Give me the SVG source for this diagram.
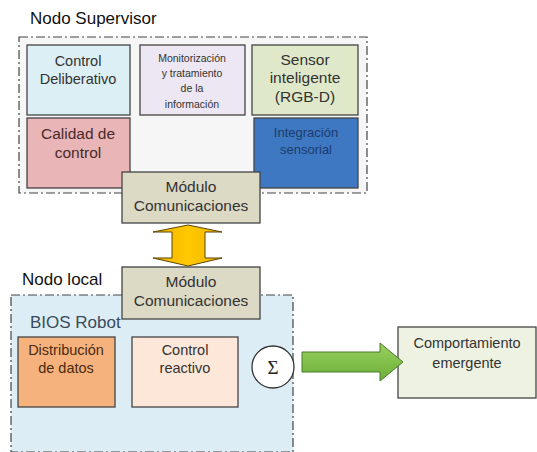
<svg xmlns="http://www.w3.org/2000/svg" width="537" height="452" viewBox="0 0 537 452">
<style>
.t{font-family:"Liberation Sans",Arial,sans-serif;fill:#333;text-anchor:middle}
.lbl{font-family:"Liberation Sans",Arial,sans-serif;fill:#111;font-size:17px}
.box{stroke:#444;stroke-width:1.3}
.dash{stroke:#444;stroke-width:1.2;stroke-dasharray:9 3 2 3}
</style>
<defs>
<linearGradient id="gy" x1="0" y1="0" x2="1" y2="0">
<stop offset="0" stop-color="#f2b400"/><stop offset="0.5" stop-color="#ffc800"/><stop offset="1" stop-color="#f2b400"/>
</linearGradient>
<linearGradient id="gg" x1="0" y1="0" x2="0" y2="1">
<stop offset="0" stop-color="#9ad060"/><stop offset="1" stop-color="#6aae36"/>
</linearGradient>
</defs>
<rect width="537" height="452" fill="#fff"/>
<text class="lbl" x="30" y="24">Nodo Supervisor</text>
<g id="supervisor">
<rect class="dash" x="19" y="37" width="348" height="156" fill="#f6f6f6"/>
</g>
<g id="control-deliberativo">
<rect class="box" x="27" y="45" width="103" height="70" fill="#dceff5"/>
<text class="t" font-size="14.5" x="78" y="66">Control</text>
<text class="t" font-size="14.5" x="78" y="84">Deliberativo</text>
</g>
<g id="monitorizacion">
<rect class="box" x="140" y="45" width="105" height="70" fill="#ece7f2"/>
<text class="t" font-size="10.5" x="192" y="62">Monitorización</text>
<text class="t" font-size="10.5" x="192" y="77">y tratamiento</text>
<text class="t" font-size="10.5" x="192" y="92">de la</text>
<text class="t" font-size="10.5" x="192" y="108">información</text>
</g>
<g id="sensor">
<rect class="box" x="252" y="45" width="106" height="70" fill="#dfe8c9"/>
<text class="t" font-size="15.5" x="305" y="65">Sensor</text>
<text class="t" font-size="15.5" x="305" y="83">inteligente</text>
<text class="t" font-size="15.5" x="305" y="102">(RGB-D)</text>
</g>
<g id="calidad">
<rect class="box" x="27" y="118" width="103" height="70" fill="#e9b5b7"/>
<text class="t" font-size="15.5" x="78" y="139" style="fill:#4a2a2a">Calidad de</text>
<text class="t" font-size="15.5" x="78" y="158" style="fill:#4a2a2a">control</text>
</g>
<g id="integracion">
<rect class="box" x="254" y="118" width="104" height="70" fill="#3e78c2"/>
<text class="t" font-size="13" x="306" y="137" style="fill:#1c3c6c">Integración</text>
<text class="t" font-size="13" x="306" y="154" style="fill:#1c3c6c">sensorial</text>
</g>
<g id="nodo-local">
<rect class="dash" x="11" y="295" width="282" height="157" fill="#dcedf5"/>
<text class="lbl" x="22" y="285">Nodo local</text>
<text class="lbl" x="30" y="328" style="fill:#3a4a5c">BIOS Robot</text>
</g>
<g id="modulo-sup">
<rect class="box" x="122" y="172" width="138" height="51" fill="#dcd9c4"/>
<text class="t" font-size="15.5" x="191" y="192">Módulo</text>
<text class="t" font-size="15.5" x="191" y="211">Comunicaciones</text>
</g>
<g id="modulo-local">
<rect class="box" x="122" y="267" width="138" height="52" fill="#dcd9c4"/>
<text class="t" font-size="15.5" x="191" y="287">Módulo</text>
<text class="t" font-size="15.5" x="191" y="306">Comunicaciones</text>
</g>
<g id="distribucion">
<rect class="box" x="18" y="337" width="97" height="70" fill="#f6b27c"/>
<text class="t" font-size="14.5" x="66" y="355" style="fill:#4a2a10">Distribución</text>
<text class="t" font-size="14.5" x="66" y="373" style="fill:#4a2a10">de datos</text>
</g>
<g id="control-reactivo">
<rect class="box" x="132" y="337" width="106" height="70" fill="#fde7d8"/>
<text class="t" font-size="14.5" x="185" y="355">Control</text>
<text class="t" font-size="14.5" x="185" y="373">reactivo</text>
</g>
<g id="suma">
<circle cx="273" cy="367" r="21" fill="#fff" stroke="#333" stroke-width="1.3"/>
<text x="273" y="374" font-family="Liberation Serif,'Times New Roman',serif" font-size="19" text-anchor="middle" fill="#222">Σ</text>
</g>
<g id="comportamiento">
<rect class="box" x="398" y="327" width="138" height="71" fill="#eef2e2"/>
<text class="t" font-size="14.5" x="467" y="348">Comportamiento</text>
<text class="t" font-size="14.5" x="467" y="368">emergente</text>
</g>
<g id="connectors">
<polygon points="188,225 222,232 205,232 205,258 222,258 188,266 153,258 172,258 172,232 153,232" fill="url(#gy)" stroke="#5a4500" stroke-width="1"/>
<polygon points="302,352 380,352 380,343 403,362 380,381 380,372 302,372" fill="url(#gg)" stroke="#4a7a2a" stroke-width="1"/>
</g>
</svg>
